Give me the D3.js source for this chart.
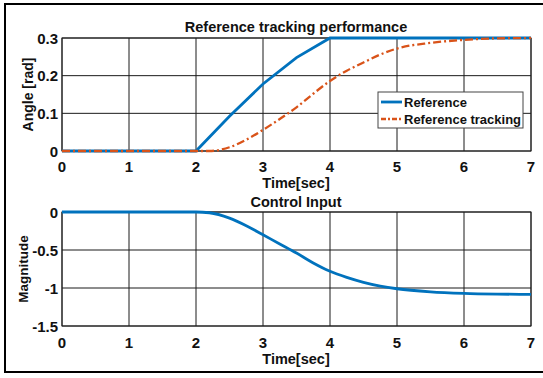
<!DOCTYPE html>
<html><head><meta charset="utf-8">
<script src="https://cdn.jsdelivr.net/npm/d3@7"></script>
<style>
body{margin:0;background:#fff;}
text{font-family:"Liberation Sans",Arial,sans-serif;font-weight:bold;fill:#111;}
</style></head><body>
<svg id="c" width="543" height="378"></svg>
<script>
const xTicks=[0,1,2,3,4,5,6,7];
const topYTicks=[0,0.1,0.2,0.3];
const topYLabels=["0","0.1","0.2","0.3"];
const botYTicks=[-1.5,-1,-0.5,0];
const botYLabels=["-1.5","-1","-0.5","0"];

const refT=[0,2,2.5,3,3.5,4,7];
const refV=[0,0,0.092,0.178,0.248,0.3,0.3];

const trkT=[0,2,2.2,2.5,2.75,3,3.25,3.5,3.75,4,4.25,4.5,4.75,5,5.5,6,6.5,7];
const trkV=[0,0,0,0.01,0.03,0.056,0.085,0.116,0.152,0.186,0.213,0.235,0.256,0.272,0.287,0.295,0.299,0.3];

const ctlT=[0,2,2.2,2.5,2.75,3,3.25,3.5,3.75,4,4.25,4.5,4.75,5,5.5,6,6.5,7];
const ctlV=[0,0,-0.01,-0.08,-0.18,-0.3,-0.42,-0.54,-0.67,-0.78,-0.86,-0.925,-0.975,-1.01,-1.05,-1.07,-1.08,-1.085];

const svg=d3.select("#c");
svg.append("rect").attr("x",5).attr("y",4).attr("width",545).attr("height",368)
  .attr("fill","none").attr("stroke","#000").attr("stroke-width",2);

const x=d3.scaleLinear().domain([0,7]).range([62,531]);

function panel(y, yTicks, yLabels, title, titleY, xlabY, tickY, ylab, ylabX, ylabSize){
  const g=svg.append("g");
  const [y0,y1]=y.range();
  g.selectAll(".vg").data(xTicks).join("line")
    .attr("x1",d=>x(d)).attr("x2",d=>x(d)).attr("y1",y1).attr("y2",y0)
    .attr("stroke","#1a1a1a").attr("stroke-width",1);
  g.selectAll(".hg").data(yTicks).join("line")
    .attr("x1",62).attr("x2",531).attr("y1",d=>y(d)).attr("y2",d=>y(d))
    .attr("stroke","#1a1a1a").attr("stroke-width",1);
  g.append("rect").attr("x",62).attr("y",y1).attr("width",469).attr("height",y0-y1)
    .attr("fill","none").attr("stroke","#222").attr("stroke-width",1);
  g.selectAll(".xt").data(xTicks).join("text")
    .attr("x",d=>x(d)).attr("y",tickY).attr("text-anchor","middle")
    .attr("dominant-baseline","central").attr("font-size",15).text(d=>d);
  g.selectAll(".yt").data(yTicks).join("text")
    .attr("x",58).attr("y",d=>y(d)).attr("text-anchor","end")
    .attr("dominant-baseline","central").attr("font-size",15).text((d,i)=>yLabels[i]);
  g.append("text").attr("x",296).attr("y",titleY).attr("text-anchor","middle")
    .attr("dominant-baseline","central").attr("font-size",14.5).text(title);
  g.append("text").attr("x",296).attr("y",xlabY).attr("text-anchor","middle")
    .attr("dominant-baseline","central").attr("font-size",14.5).text("Time[sec]");
  g.append("text").attr("transform",`translate(${ylabX},${(y0+y1)/2}) rotate(-90)`)
    .attr("text-anchor","middle").attr("dominant-baseline","central")
    .attr("font-size",ylabSize).text(ylab);
  return g;
}

const yTop=d3.scaleLinear().domain([0,0.3]).range([151,38]);
const yBot=d3.scaleLinear().domain([-1.5,0]).range([326,212]);

const gTop=panel(yTop,topYTicks,topYLabels,"Reference tracking performance",27,183,166,"Angle [rad]",28,14);
const gBot=panel(yBot,botYTicks,botYLabels,"Control Input",202,359,342,"Magnitude",23,13.5);

const refData=refT.map((t,i)=>[t,refV[i]]);
const trkData=trkT.map((t,i)=>[t,trkV[i]]);
const ctlData=ctlT.map((t,i)=>[t,ctlV[i]]);

gTop.append("path").datum(refData).attr("d",d3.line().x(d=>x(d[0])).y(d=>yTop(d[1])))
  .attr("fill","none").attr("stroke","#0072BD").attr("stroke-width",2.8);
gTop.append("path").datum(trkData).attr("d",d3.line().x(d=>x(d[0])).y(d=>yTop(d[1])).curve(d3.curveMonotoneX))
  .attr("fill","none").attr("stroke","#D95319").attr("stroke-width",2.3)
  .attr("stroke-dasharray","8,3,2,3");
gBot.append("path").datum(ctlData).attr("d",d3.line().x(d=>x(d[0])).y(d=>yBot(d[1])).curve(d3.curveMonotoneX))
  .attr("fill","none").attr("stroke","#0072BD").attr("stroke-width",2.8);

const lg=svg.append("g");
lg.append("rect").attr("x",378).attr("y",92).attr("width",145).attr("height",36)
  .attr("fill","#fff").attr("stroke","#444").attr("stroke-width",1);
lg.append("line").attr("x1",381).attr("x2",402).attr("y1",102).attr("y2",102)
  .attr("stroke","#0072BD").attr("stroke-width",2.8);
lg.append("line").attr("x1",381).attr("x2",402).attr("y1",119).attr("y2",119)
  .attr("stroke","#D95319").attr("stroke-width",2.3).attr("stroke-dasharray","5,2,2,2");
lg.append("text").attr("x",404).attr("y",102).attr("dominant-baseline","central")
  .attr("font-size",13).text("Reference");
lg.append("text").attr("x",404).attr("y",119).attr("dominant-baseline","central")
  .attr("font-size",13).text("Reference tracking");
</script></body></html>
